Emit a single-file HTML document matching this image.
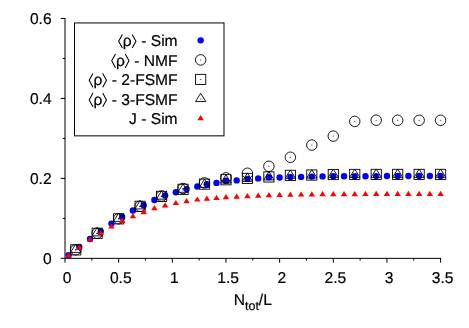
<!DOCTYPE html>
<html><head><meta charset="utf-8"><title>plot</title><style>html,body{margin:0;padding:0;background:#fff}svg{display:block;will-change:transform}.t,.t text{font-family:"Liberation Sans",sans-serif}</style></head><body>
<svg width="469" height="328" viewBox="0 0 469 328">
<rect width="469" height="328" fill="#fff"/>
<g stroke="#000" stroke-width="1.0" fill="none" stroke-linecap="butt">
<path d="M65.0 18.0V258.35H441.1"/>
<path d="M65.00 258.35v4.3"/>
<path d="M91.83 258.35v2.2"/>
<path d="M118.66 258.35v4.3"/>
<path d="M145.49 258.35v2.2"/>
<path d="M172.31 258.35v4.3"/>
<path d="M199.14 258.35v2.2"/>
<path d="M225.97 258.35v4.3"/>
<path d="M252.80 258.35v2.2"/>
<path d="M279.63 258.35v4.3"/>
<path d="M306.46 258.35v2.2"/>
<path d="M333.29 258.35v4.3"/>
<path d="M360.11 258.35v2.2"/>
<path d="M386.94 258.35v4.3"/>
<path d="M413.77 258.35v2.2"/>
<path d="M440.60 258.35v4.3"/>
<path d="M65.0 258.35h-4.3"/>
<path d="M65.0 218.38h-2.2"/>
<path d="M65.0 178.40h-4.3"/>
<path d="M65.0 138.43h-2.2"/>
<path d="M65.0 98.45h-4.3"/>
<path d="M65.0 58.47h-2.2"/>
<path d="M65.0 18.50h-4.3"/>
<rect x="74.5" y="22.95" width="149.5" height="112.9"/>
</g>
<g class="t" font-size="15.6" fill="#000" stroke="#000" stroke-width="0.2" text-rendering="geometricPrecision">
<text x="67.10" y="282.85" text-anchor="middle">0</text>
<text x="120.76" y="282.85" text-anchor="middle">0.5</text>
<text x="174.41" y="282.85" text-anchor="middle">1</text>
<text x="228.07" y="282.85" text-anchor="middle">1.5</text>
<text x="281.73" y="282.85" text-anchor="middle">2</text>
<text x="335.39" y="282.85" text-anchor="middle">2.5</text>
<text x="389.04" y="282.85" text-anchor="middle">3</text>
<text x="442.70" y="282.85" text-anchor="middle">3.5</text>
<text x="51.6" y="263.55" text-anchor="end">0</text>
<text x="51.6" y="183.60" text-anchor="end">0.2</text>
<text x="51.6" y="103.65" text-anchor="end">0.4</text>
<text x="51.6" y="23.70" text-anchor="end">0.6</text>
<text x="252.8" y="304.8" text-anchor="middle">N<tspan font-size="12.48" dy="5.58">tot</tspan><tspan dy="-5.58">/L</tspan></text>
<text x="177.6" y="46.05" text-anchor="end">- Sim</text>
<text x="131.74" y="46.05" text-anchor="end">ρ</text>
<text x="177.6" y="65.60" text-anchor="end">- NMF</text>
<text x="124.81" y="65.60" text-anchor="end">ρ</text>
<text x="177.6" y="85.15" text-anchor="end">- 2-FSMF</text>
<text x="102.27" y="85.15" text-anchor="end">ρ</text>
<text x="177.6" y="104.70" text-anchor="end">- 3-FSMF</text>
<text x="102.27" y="104.70" text-anchor="end">ρ</text>
<text x="177.6" y="124.30" text-anchor="end">J - Sim</text>
</g>
<path d="M122.39 34.41L118.65 41.25L122.39 48.08M132.19 34.41L135.93 41.25L132.19 48.08M115.47 53.96L111.72 60.80L115.47 67.63M125.26 53.96L129.01 60.80L125.26 67.63M92.92 73.51L89.18 80.35L92.92 87.18M102.72 73.51L106.46 80.35L102.72 87.18M92.92 93.06L89.18 99.90L92.92 106.73M102.72 93.06L106.46 99.90L102.72 106.73" fill="none" stroke="#000" stroke-width="1.05" stroke-linejoin="miter"/>
<circle cx="200.65" cy="40.35" r="3.2" fill="#0000ff"/>
<circle cx="200.65" cy="59.90" r="5.25" fill="none" stroke="#000" stroke-width="0.9"/><ellipse cx="200.65" cy="59.90" rx="0.8" ry="0.5" fill="#000" opacity="0.7"/>
<rect x="195.55" y="74.35" width="10.2" height="10.2" fill="none" stroke="#000" stroke-width="0.9"/><ellipse cx="200.65" cy="79.45" rx="0.8" ry="0.5" fill="#000" opacity="0.7"/>
<path d="M195.50 101.58L200.65 93.23L205.80 101.58Z" fill="none" stroke="#000" stroke-width="0.9"/><ellipse cx="200.65" cy="99.00" rx="0.8" ry="0.5" fill="#000" opacity="0.7"/>
<path d="M197.45 120.20L200.65 115.02L203.85 120.20Z" fill="#ff0000"/>
<circle cx="68.54" cy="255.20" r="3.2" fill="#0000ff"/>
<circle cx="79.27" cy="247.00" r="3.2" fill="#0000ff"/>
<circle cx="90.00" cy="239.00" r="3.2" fill="#0000ff"/>
<circle cx="100.74" cy="231.50" r="3.2" fill="#0000ff"/>
<circle cx="111.47" cy="223.60" r="3.2" fill="#0000ff"/>
<circle cx="122.20" cy="216.90" r="3.2" fill="#0000ff"/>
<circle cx="132.93" cy="210.50" r="3.2" fill="#0000ff"/>
<circle cx="143.66" cy="205.20" r="3.2" fill="#0000ff"/>
<circle cx="154.39" cy="200.00" r="3.2" fill="#0000ff"/>
<circle cx="165.12" cy="195.50" r="3.2" fill="#0000ff"/>
<circle cx="175.86" cy="192.30" r="3.2" fill="#0000ff"/>
<circle cx="186.59" cy="189.10" r="3.2" fill="#0000ff"/>
<circle cx="197.32" cy="186.50" r="3.2" fill="#0000ff"/>
<circle cx="206.87" cy="184.20" r="3.2" fill="#0000ff"/>
<circle cx="216.53" cy="182.90" r="3.2" fill="#0000ff"/>
<circle cx="225.97" cy="180.90" r="3.2" fill="#0000ff"/>
<circle cx="236.70" cy="180.40" r="3.2" fill="#0000ff"/>
<circle cx="247.43" cy="178.90" r="3.2" fill="#0000ff"/>
<circle cx="258.17" cy="178.40" r="3.2" fill="#0000ff"/>
<circle cx="268.90" cy="177.30" r="3.2" fill="#0000ff"/>
<circle cx="279.63" cy="177.50" r="3.2" fill="#0000ff"/>
<circle cx="290.36" cy="177.00" r="3.2" fill="#0000ff"/>
<circle cx="301.09" cy="176.90" r="3.2" fill="#0000ff"/>
<circle cx="311.82" cy="176.60" r="3.2" fill="#0000ff"/>
<circle cx="322.55" cy="176.40" r="3.2" fill="#0000ff"/>
<circle cx="333.29" cy="176.30" r="3.2" fill="#0000ff"/>
<circle cx="344.02" cy="176.20" r="3.2" fill="#0000ff"/>
<circle cx="354.75" cy="176.20" r="3.2" fill="#0000ff"/>
<circle cx="365.48" cy="176.20" r="3.2" fill="#0000ff"/>
<circle cx="376.21" cy="176.10" r="3.2" fill="#0000ff"/>
<circle cx="386.94" cy="176.00" r="3.2" fill="#0000ff"/>
<circle cx="397.67" cy="176.00" r="3.2" fill="#0000ff"/>
<circle cx="408.41" cy="176.00" r="3.2" fill="#0000ff"/>
<circle cx="419.14" cy="176.00" r="3.2" fill="#0000ff"/>
<circle cx="429.87" cy="176.00" r="3.2" fill="#0000ff"/>
<circle cx="440.60" cy="176.00" r="3.2" fill="#0000ff"/>
<circle cx="75.73" cy="249.85" r="5.25" fill="none" stroke="#000" stroke-width="0.9"/><ellipse cx="75.73" cy="249.85" rx="0.8" ry="0.5" fill="#000" opacity="0.7"/>
<circle cx="97.19" cy="233.25" r="5.25" fill="none" stroke="#000" stroke-width="0.9"/><ellipse cx="97.19" cy="233.25" rx="0.8" ry="0.5" fill="#000" opacity="0.7"/>
<circle cx="118.66" cy="218.80" r="5.25" fill="none" stroke="#000" stroke-width="0.9"/><ellipse cx="118.66" cy="218.80" rx="0.8" ry="0.5" fill="#000" opacity="0.7"/>
<circle cx="140.12" cy="206.30" r="5.25" fill="none" stroke="#000" stroke-width="0.9"/><ellipse cx="140.12" cy="206.30" rx="0.8" ry="0.5" fill="#000" opacity="0.7"/>
<circle cx="161.58" cy="196.00" r="5.25" fill="none" stroke="#000" stroke-width="0.9"/><ellipse cx="161.58" cy="196.00" rx="0.8" ry="0.5" fill="#000" opacity="0.7"/>
<circle cx="183.05" cy="188.50" r="5.25" fill="none" stroke="#000" stroke-width="0.9"/><ellipse cx="183.05" cy="188.50" rx="0.8" ry="0.5" fill="#000" opacity="0.7"/>
<circle cx="204.51" cy="182.90" r="5.25" fill="none" stroke="#000" stroke-width="0.9"/><ellipse cx="204.51" cy="182.90" rx="0.8" ry="0.5" fill="#000" opacity="0.7"/>
<circle cx="225.97" cy="177.85" r="5.25" fill="none" stroke="#000" stroke-width="0.9"/><ellipse cx="225.97" cy="177.85" rx="0.8" ry="0.5" fill="#000" opacity="0.7"/>
<circle cx="247.43" cy="173.25" r="5.25" fill="none" stroke="#000" stroke-width="0.9"/><ellipse cx="247.43" cy="173.25" rx="0.8" ry="0.5" fill="#000" opacity="0.7"/>
<circle cx="268.90" cy="166.30" r="5.25" fill="none" stroke="#000" stroke-width="0.9"/><ellipse cx="268.90" cy="166.30" rx="0.8" ry="0.5" fill="#000" opacity="0.7"/>
<circle cx="290.36" cy="157.25" r="5.25" fill="none" stroke="#000" stroke-width="0.9"/><ellipse cx="290.36" cy="157.25" rx="0.8" ry="0.5" fill="#000" opacity="0.7"/>
<circle cx="311.82" cy="145.05" r="5.25" fill="none" stroke="#000" stroke-width="0.9"/><ellipse cx="311.82" cy="145.05" rx="0.8" ry="0.5" fill="#000" opacity="0.7"/>
<circle cx="333.29" cy="136.10" r="5.25" fill="none" stroke="#000" stroke-width="0.9"/><ellipse cx="333.29" cy="136.10" rx="0.8" ry="0.5" fill="#000" opacity="0.7"/>
<circle cx="354.75" cy="121.40" r="5.25" fill="none" stroke="#000" stroke-width="0.9"/><ellipse cx="354.75" cy="121.40" rx="0.8" ry="0.5" fill="#000" opacity="0.7"/>
<circle cx="376.21" cy="120.20" r="5.25" fill="none" stroke="#000" stroke-width="0.9"/><ellipse cx="376.21" cy="120.20" rx="0.8" ry="0.5" fill="#000" opacity="0.7"/>
<circle cx="397.67" cy="120.30" r="5.25" fill="none" stroke="#000" stroke-width="0.9"/><ellipse cx="397.67" cy="120.30" rx="0.8" ry="0.5" fill="#000" opacity="0.7"/>
<circle cx="419.14" cy="120.30" r="5.25" fill="none" stroke="#000" stroke-width="0.9"/><ellipse cx="419.14" cy="120.30" rx="0.8" ry="0.5" fill="#000" opacity="0.7"/>
<circle cx="440.60" cy="120.30" r="5.25" fill="none" stroke="#000" stroke-width="0.9"/><ellipse cx="440.60" cy="120.30" rx="0.8" ry="0.5" fill="#000" opacity="0.7"/>
<rect x="70.63" y="244.75" width="10.2" height="10.2" fill="none" stroke="#000" stroke-width="0.9"/><ellipse cx="75.73" cy="249.85" rx="0.8" ry="0.5" fill="#000" opacity="0.7"/>
<rect x="92.09" y="228.15" width="10.2" height="10.2" fill="none" stroke="#000" stroke-width="0.9"/><ellipse cx="97.19" cy="233.25" rx="0.8" ry="0.5" fill="#000" opacity="0.7"/>
<rect x="113.56" y="213.70" width="10.2" height="10.2" fill="none" stroke="#000" stroke-width="0.9"/><ellipse cx="118.66" cy="218.80" rx="0.8" ry="0.5" fill="#000" opacity="0.7"/>
<rect x="135.02" y="201.20" width="10.2" height="10.2" fill="none" stroke="#000" stroke-width="0.9"/><ellipse cx="140.12" cy="206.30" rx="0.8" ry="0.5" fill="#000" opacity="0.7"/>
<rect x="156.48" y="191.30" width="10.2" height="10.2" fill="none" stroke="#000" stroke-width="0.9"/><ellipse cx="161.58" cy="196.40" rx="0.8" ry="0.5" fill="#000" opacity="0.7"/>
<rect x="177.95" y="184.20" width="10.2" height="10.2" fill="none" stroke="#000" stroke-width="0.9"/><ellipse cx="183.05" cy="189.30" rx="0.8" ry="0.5" fill="#000" opacity="0.7"/>
<rect x="199.41" y="179.05" width="10.2" height="10.2" fill="none" stroke="#000" stroke-width="0.9"/><ellipse cx="204.51" cy="184.15" rx="0.8" ry="0.5" fill="#000" opacity="0.7"/>
<rect x="220.87" y="174.65" width="10.2" height="10.2" fill="none" stroke="#000" stroke-width="0.9"/><ellipse cx="225.97" cy="179.75" rx="0.8" ry="0.5" fill="#000" opacity="0.7"/>
<rect x="242.33" y="173.30" width="10.2" height="10.2" fill="none" stroke="#000" stroke-width="0.9"/><ellipse cx="247.43" cy="178.40" rx="0.8" ry="0.5" fill="#000" opacity="0.7"/>
<rect x="263.80" y="171.85" width="10.2" height="10.2" fill="none" stroke="#000" stroke-width="0.9"/><ellipse cx="268.90" cy="176.95" rx="0.8" ry="0.5" fill="#000" opacity="0.7"/>
<rect x="285.26" y="170.25" width="10.2" height="10.2" fill="none" stroke="#000" stroke-width="0.9"/><ellipse cx="290.36" cy="175.35" rx="0.8" ry="0.5" fill="#000" opacity="0.7"/>
<rect x="306.72" y="169.95" width="10.2" height="10.2" fill="none" stroke="#000" stroke-width="0.9"/><ellipse cx="311.82" cy="175.05" rx="0.8" ry="0.5" fill="#000" opacity="0.7"/>
<rect x="328.19" y="169.40" width="10.2" height="10.2" fill="none" stroke="#000" stroke-width="0.9"/><ellipse cx="333.29" cy="174.50" rx="0.8" ry="0.5" fill="#000" opacity="0.7"/>
<rect x="349.65" y="169.35" width="10.2" height="10.2" fill="none" stroke="#000" stroke-width="0.9"/><ellipse cx="354.75" cy="174.45" rx="0.8" ry="0.5" fill="#000" opacity="0.7"/>
<rect x="371.11" y="169.30" width="10.2" height="10.2" fill="none" stroke="#000" stroke-width="0.9"/><ellipse cx="376.21" cy="174.40" rx="0.8" ry="0.5" fill="#000" opacity="0.7"/>
<rect x="392.57" y="169.30" width="10.2" height="10.2" fill="none" stroke="#000" stroke-width="0.9"/><ellipse cx="397.67" cy="174.40" rx="0.8" ry="0.5" fill="#000" opacity="0.7"/>
<rect x="414.04" y="169.30" width="10.2" height="10.2" fill="none" stroke="#000" stroke-width="0.9"/><ellipse cx="419.14" cy="174.40" rx="0.8" ry="0.5" fill="#000" opacity="0.7"/>
<rect x="435.50" y="169.30" width="10.2" height="10.2" fill="none" stroke="#000" stroke-width="0.9"/><ellipse cx="440.60" cy="174.40" rx="0.8" ry="0.5" fill="#000" opacity="0.7"/>
<path d="M70.58 252.42L75.73 244.08L80.88 252.42Z" fill="none" stroke="#000" stroke-width="0.9"/><ellipse cx="75.73" cy="249.85" rx="0.8" ry="0.5" fill="#000" opacity="0.7"/>
<path d="M92.04 235.82L97.19 227.48L102.34 235.82Z" fill="none" stroke="#000" stroke-width="0.9"/><ellipse cx="97.19" cy="233.25" rx="0.8" ry="0.5" fill="#000" opacity="0.7"/>
<path d="M113.51 221.38L118.66 213.03L123.81 221.38Z" fill="none" stroke="#000" stroke-width="0.9"/><ellipse cx="118.66" cy="218.80" rx="0.8" ry="0.5" fill="#000" opacity="0.7"/>
<path d="M134.97 208.88L140.12 200.53L145.27 208.88Z" fill="none" stroke="#000" stroke-width="0.9"/><ellipse cx="140.12" cy="206.30" rx="0.8" ry="0.5" fill="#000" opacity="0.7"/>
<path d="M156.43 199.17L161.58 190.83L166.73 199.17Z" fill="none" stroke="#000" stroke-width="0.9"/><ellipse cx="161.58" cy="196.60" rx="0.8" ry="0.5" fill="#000" opacity="0.7"/>
<path d="M177.90 192.28L183.05 183.93L188.20 192.28Z" fill="none" stroke="#000" stroke-width="0.9"/><ellipse cx="183.05" cy="189.70" rx="0.8" ry="0.5" fill="#000" opacity="0.7"/>
<path d="M199.36 187.42L204.51 179.08L209.66 187.42Z" fill="none" stroke="#000" stroke-width="0.9"/><ellipse cx="204.51" cy="184.85" rx="0.8" ry="0.5" fill="#000" opacity="0.7"/>
<path d="M220.82 183.02L225.97 174.68L231.12 183.02Z" fill="none" stroke="#000" stroke-width="0.9"/><ellipse cx="225.97" cy="180.45" rx="0.8" ry="0.5" fill="#000" opacity="0.7"/>
<path d="M242.28 181.38L247.43 173.03L252.58 181.38Z" fill="none" stroke="#000" stroke-width="0.9"/><ellipse cx="247.43" cy="178.80" rx="0.8" ry="0.5" fill="#000" opacity="0.7"/>
<path d="M263.75 179.92L268.90 171.58L274.05 179.92Z" fill="none" stroke="#000" stroke-width="0.9"/><ellipse cx="268.90" cy="177.35" rx="0.8" ry="0.5" fill="#000" opacity="0.7"/>
<path d="M285.21 178.32L290.36 169.98L295.51 178.32Z" fill="none" stroke="#000" stroke-width="0.9"/><ellipse cx="290.36" cy="175.75" rx="0.8" ry="0.5" fill="#000" opacity="0.7"/>
<path d="M306.67 178.03L311.82 169.68L316.97 178.03Z" fill="none" stroke="#000" stroke-width="0.9"/><ellipse cx="311.82" cy="175.45" rx="0.8" ry="0.5" fill="#000" opacity="0.7"/>
<path d="M328.14 177.47L333.29 169.13L338.44 177.47Z" fill="none" stroke="#000" stroke-width="0.9"/><ellipse cx="333.29" cy="174.90" rx="0.8" ry="0.5" fill="#000" opacity="0.7"/>
<path d="M349.60 177.42L354.75 169.08L359.90 177.42Z" fill="none" stroke="#000" stroke-width="0.9"/><ellipse cx="354.75" cy="174.85" rx="0.8" ry="0.5" fill="#000" opacity="0.7"/>
<path d="M371.06 177.38L376.21 169.03L381.36 177.38Z" fill="none" stroke="#000" stroke-width="0.9"/><ellipse cx="376.21" cy="174.80" rx="0.8" ry="0.5" fill="#000" opacity="0.7"/>
<path d="M392.52 177.38L397.67 169.03L402.82 177.38Z" fill="none" stroke="#000" stroke-width="0.9"/><ellipse cx="397.67" cy="174.80" rx="0.8" ry="0.5" fill="#000" opacity="0.7"/>
<path d="M413.99 177.38L419.14 169.03L424.29 177.38Z" fill="none" stroke="#000" stroke-width="0.9"/><ellipse cx="419.14" cy="174.80" rx="0.8" ry="0.5" fill="#000" opacity="0.7"/>
<path d="M435.45 177.38L440.60 169.03L445.75 177.38Z" fill="none" stroke="#000" stroke-width="0.9"/><ellipse cx="440.60" cy="174.80" rx="0.8" ry="0.5" fill="#000" opacity="0.7"/>
<path d="M65.34 257.50L68.54 252.32L71.74 257.50Z" fill="#ff0000"/>
<path d="M76.07 249.70L79.27 244.52L82.47 249.70Z" fill="#ff0000"/>
<path d="M86.80 241.60L90.00 236.42L93.20 241.60Z" fill="#ff0000"/>
<path d="M97.54 235.10L100.74 229.92L103.94 235.10Z" fill="#ff0000"/>
<path d="M108.27 228.60L111.47 223.42L114.67 228.60Z" fill="#ff0000"/>
<path d="M119.00 223.00L122.20 217.82L125.40 223.00Z" fill="#ff0000"/>
<path d="M129.73 218.20L132.93 213.02L136.13 218.20Z" fill="#ff0000"/>
<path d="M140.46 214.20L143.66 209.02L146.86 214.20Z" fill="#ff0000"/>
<path d="M151.19 210.30L154.39 205.12L157.59 210.30Z" fill="#ff0000"/>
<path d="M161.92 207.50L165.12 202.32L168.32 207.50Z" fill="#ff0000"/>
<path d="M172.66 205.10L175.86 199.92L179.06 205.10Z" fill="#ff0000"/>
<path d="M183.39 203.30L186.59 198.12L189.79 203.30Z" fill="#ff0000"/>
<path d="M194.12 201.60L197.32 196.42L200.52 201.60Z" fill="#ff0000"/>
<path d="M203.67 200.80L206.87 195.62L210.07 200.80Z" fill="#ff0000"/>
<path d="M213.33 200.00L216.53 194.82L219.73 200.00Z" fill="#ff0000"/>
<path d="M222.77 199.20L225.97 194.02L229.17 199.20Z" fill="#ff0000"/>
<path d="M233.50 198.70L236.70 193.52L239.90 198.70Z" fill="#ff0000"/>
<path d="M244.23 198.20L247.43 193.02L250.63 198.20Z" fill="#ff0000"/>
<path d="M254.97 197.70L258.17 192.52L261.37 197.70Z" fill="#ff0000"/>
<path d="M265.70 197.20L268.90 192.02L272.10 197.20Z" fill="#ff0000"/>
<path d="M276.43 197.00L279.63 191.82L282.83 197.00Z" fill="#ff0000"/>
<path d="M287.16 196.80L290.36 191.62L293.56 196.80Z" fill="#ff0000"/>
<path d="M297.89 196.60L301.09 191.42L304.29 196.60Z" fill="#ff0000"/>
<path d="M308.62 196.40L311.82 191.22L315.02 196.40Z" fill="#ff0000"/>
<path d="M319.35 196.30L322.55 191.12L325.75 196.30Z" fill="#ff0000"/>
<path d="M330.09 196.30L333.29 191.12L336.49 196.30Z" fill="#ff0000"/>
<path d="M340.82 196.20L344.02 191.02L347.22 196.20Z" fill="#ff0000"/>
<path d="M351.55 196.20L354.75 191.02L357.95 196.20Z" fill="#ff0000"/>
<path d="M362.28 196.10L365.48 190.92L368.68 196.10Z" fill="#ff0000"/>
<path d="M373.01 196.05L376.21 190.87L379.41 196.05Z" fill="#ff0000"/>
<path d="M383.74 196.00L386.94 190.82L390.14 196.00Z" fill="#ff0000"/>
<path d="M394.47 196.00L397.67 190.82L400.87 196.00Z" fill="#ff0000"/>
<path d="M405.21 196.00L408.41 190.82L411.61 196.00Z" fill="#ff0000"/>
<path d="M415.94 196.00L419.14 190.82L422.34 196.00Z" fill="#ff0000"/>
<path d="M426.67 196.00L429.87 190.82L433.07 196.00Z" fill="#ff0000"/>
<path d="M437.40 196.00L440.60 190.82L443.80 196.00Z" fill="#ff0000"/>
</svg>
</body></html>
